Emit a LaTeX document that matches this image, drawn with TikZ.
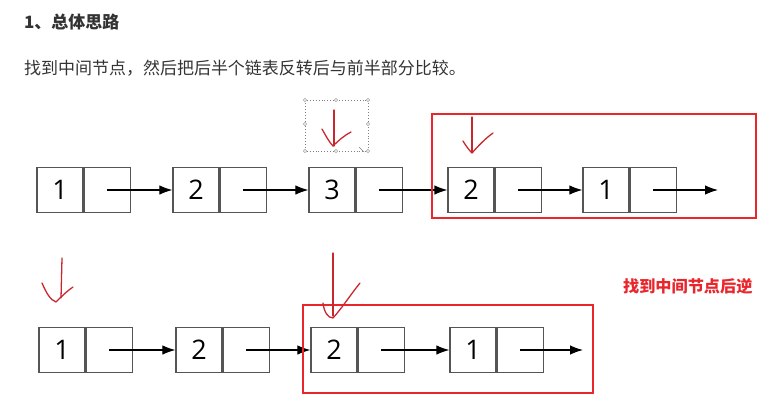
\documentclass[tikz,border=0pt]{standalone}
\usepackage{fontspec}
\usepackage{xcolor}
\definecolor{listgray}{HTML}{555555}
\definecolor{markred}{HTML}{C8282D}
\definecolor{framered}{HTML}{E8262C}
\definecolor{textdark}{HTML}{333333}
\newfontfamily\cjk{Noto Sans CJK SC}
\newfontfamily\digitfont{Open Sans}
\usetikzlibrary{arrows.meta, positioning}

\begin{document}
\begin{tikzpicture}[x=0.03cm, y=-0.03cm,
  cell/.style={rectangle, draw=listgray, line width=1.1pt, minimum width=1.38cm,
    minimum height=1.35cm, inner sep=0pt, font=\digitfont\fontsize{23}{23}\selectfont},
  link/.style={-{Latex[length=11pt,width=8pt]}, line width=0.9pt},
  hand/.style={draw=markred, line width=1.1pt, line cap=round, line join=round},
  frame/.style={draw=framered, line width=2pt},
  handle/.style={draw=gray, fill=white, line width=0.4pt}
]
\useasboundingbox (0,0) rectangle (758,411);
\clip (0,0) rectangle (758,411);

\node[anchor=west, text=textdark, font=\cjk\bfseries\fontsize{14.5}{14.5}\selectfont] (title) at (20,22) {1、总体思路};
\node[anchor=west, text=textdark, font=\cjk\fontsize{14.5}{14.5}\selectfont] (idea) at (20,68) {找到中间节点，然后把后半个链表反转后与前半部分比较。};

\node[cell] (u1) at (60,190) {1};
\node[cell, right=0pt of u1] (u1n) {};
\node[cell] (u2) at (196,190) {2};
\node[cell, right=0pt of u2] (u2n) {};
\node[cell] (u3) at (332,190) {3};
\node[cell, right=0pt of u3] (u3n) {};
\node[cell] (u4) at (471,190) {2};
\node[cell, right=0pt of u4] (u4n) {};
\node[cell] (u5) at (606,190) {1};
\node[cell, right=0pt of u5] (u5n) {};
\coordinate (uend) at (718,190);

\draw[link] (u1n.center) -- (u2.west);
\draw[link] (u2n.center) -- (u3.west);
\draw[link] (u3n.center) -- (u4.west);
\draw[link] (u4n.center) -- (u5.west);
\draw[link] (u5n.center) -- (uend);

\node[cell] (l1) at (62,350) {1};
\node[cell, right=0pt of l1] (l1n) {};
\node[cell] (l2) at (199,350) {2};
\node[cell, right=0pt of l2] (l2n) {};
\node[cell] (l3) at (334,350) {2};
\node[cell, right=0pt of l3] (l3n) {};
\node[cell] (l4) at (473,350) {1};
\node[cell, right=0pt of l4] (l4n) {};
\coordinate (lend) at (583,350);

\draw[link] (l1n.center) -- (l2.west);
\draw[link] (l2n.center) -- (l3.west);
\draw[link] (l3n.center) -- (l4.west);
\draw[link] (l4n.center) -- (lend);

\draw[frame] (432,114) rectangle (756,218);
\draw[frame] (303,305) rectangle (593,393);

\draw[gray, dotted, line width=0.5pt] (305,100) rectangle (368,151);
\foreach \hx/\hy in {305/100, 336/100, 368/100, 305/124, 368/124, 305/151, 336/151, 368/151}
  \draw[handle] (\hx,\hy) circle (1.6);
\draw[gray, line width=0.5pt] (359,147) -- (364,152);

\draw[hand] (334,110) -- (334,146);
\draw[hand] (322,129) .. controls (326,136) and (329,142) .. (333,146) .. controls (339,140) and (345,135) .. (351,132);
\draw[hand] (472,117) -- (472,152);
\draw[hand] (463,141) .. controls (466,146) and (469,150) .. (472,153) .. controls (479,145) and (486,138) .. (493,133);
\draw[hand] (62,258) -- (61,298);
\draw[hand] (42,283) .. controls (46,292) and (50,300) .. (56,302) .. controls (61,297) and (67,291) .. (73,287);
\draw[hand] (333,253) -- (333,316);
\draw[hand] (323,303) .. controls (324,312) and (328,318) .. (333,318) .. controls (342,308) and (351,294) .. (360,283);

\node[anchor=west, text=framered, font=\cjk\bfseries\fontsize{13.8}{13.8}\selectfont] (note) at (619,286) {找到中间节点后逆};
\end{tikzpicture}
\end{document}
